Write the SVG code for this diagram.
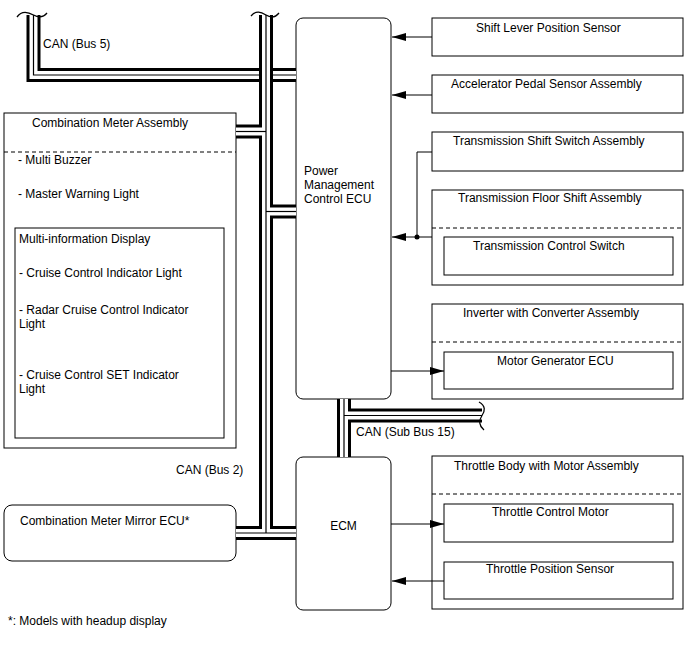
<svg xmlns="http://www.w3.org/2000/svg" width="688" height="658" viewBox="0 0 688 658">
<style>
text{font-family:"Liberation Sans",Arial,sans-serif;font-size:12px;fill:#000}
.box{fill:#fff;stroke:#000;stroke-width:1}
.dash{fill:none;stroke:#000;stroke-width:1;stroke-dasharray:4 3}
.ln{fill:none;stroke:#000;stroke-width:1}
.bk{fill:none;stroke:#000;stroke-width:14;stroke-linejoin:miter}
.wh{fill:none;stroke:#fff;stroke-width:8;stroke-linejoin:miter}
.th{fill:none;stroke:#000;stroke-width:1.2}
.wave{fill:none;stroke:#000;stroke-width:1.3}
</style>
<defs>
<marker id="arr" viewBox="0 0 14 8" refX="14" refY="4" markerWidth="14" markerHeight="8" orient="auto" markerUnits="userSpaceOnUse">
<path d="M0,0 L14,4 L0,8 z" fill="#000"/>
</marker>
</defs>
<rect width="688" height="658" fill="#fff"/>

<g id="pm-ecu">
  <rect class="box" x="296" y="18" width="95" height="381" rx="7"/>
  <text x="304" y="175">Power</text>
  <text x="304" y="189">Management</text>
  <text x="304" y="203">Control ECU</text>
</g>

<g id="ecm">
  <rect class="box" x="296" y="457" width="95" height="153" rx="7"/>
  <text x="343.5" y="530" text-anchor="middle">ECM</text>
</g>

<g id="combination-meter">
  <rect class="box" x="4" y="113" width="232" height="335"/>
  <text x="32" y="127">Combination Meter Assembly</text>
  <line class="dash" x1="4" y1="152" x2="236" y2="152"/>
  <text x="18" y="164">- Multi Buzzer</text>
  <text x="18" y="198">- Master Warning Light</text>
  <g id="multi-info-display">
    <rect class="box" x="15" y="228" width="209" height="210"/>
    <text x="19" y="243">Multi-information Display</text>
    <text x="19" y="277">- Cruise Control Indicator Light</text>
    <text x="19" y="314">- Radar Cruise Control Indicator</text>
    <text x="19" y="328">Light</text>
    <text x="19" y="379">- Cruise Control SET Indicator</text>
    <text x="19" y="393">Light</text>
  </g>
</g>

<g id="mirror-ecu">
  <rect class="box" x="4" y="505" width="232" height="56" rx="8"/>
  <text x="20" y="525">Combination Meter Mirror ECU*</text>
</g>

<g id="shift-lever">
  <rect class="box" x="432" y="18" width="251" height="38"/>
  <text x="476" y="32">Shift Lever Position Sensor</text>
</g>

<g id="accelerator">
  <rect class="box" x="432" y="75" width="251" height="38"/>
  <text x="451" y="88">Accelerator Pedal Sensor Assembly</text>
</g>

<g id="shift-switch">
  <rect class="box" x="432" y="132" width="251" height="39"/>
  <text x="453" y="145">Transmission Shift Switch Assembly</text>
</g>

<g id="floor-shift">
  <rect class="box" x="432" y="190" width="251" height="95"/>
  <text x="458" y="202">Transmission Floor Shift Assembly</text>
  <line class="dash" x1="432" y1="228" x2="683" y2="228"/>
  <g id="control-switch">
    <rect class="box" x="444" y="237" width="229" height="38"/>
    <text x="473" y="250">Transmission Control Switch</text>
  </g>
</g>

<g id="inverter">
  <rect class="box" x="432" y="304" width="251" height="95"/>
  <text x="463" y="317">Inverter with Converter Assembly</text>
  <line class="dash" x1="432" y1="342" x2="683" y2="342"/>
  <g id="mg-ecu">
    <rect class="box" x="444" y="352" width="229" height="37"/>
    <text x="497" y="365">Motor Generator ECU</text>
  </g>
</g>

<g id="throttle-body">
  <rect class="box" x="432" y="456" width="251" height="153"/>
  <text x="454" y="470">Throttle Body with Motor Assembly</text>
  <line class="dash" x1="432" y1="494" x2="683" y2="494"/>
  <g id="throttle-motor">
    <rect class="box" x="444" y="504" width="229" height="38"/>
    <text x="492" y="516">Throttle Control Motor</text>
  </g>
  <g id="throttle-sensor">
    <rect class="box" x="444" y="562" width="229" height="37"/>
    <text x="486" y="573">Throttle Position Sensor</text>
  </g>
</g>

<g id="connectors">
  <!-- CAN Bus 5 -->
  <g id="bus5">
    <path class="bk" d="M33.5,15 V75 H296"/>
    <path class="wh" d="M33.5,15 V75 H296"/>
    <path class="th" d="M33.5,15 V75 H296"/>
    <path class="wave" d="M17,17 C22,10 28,12 33.5,15 C39,18 43,18 47,13"/>
  </g>
  <!-- CAN Bus 2 -->
  <g id="bus2">
    <path class="bk" d="M266,15 V533"/>
    <path class="bk" d="M236,533 H296"/>
    <path class="bk" d="M236,131.5 H266"/>
    <path class="bk" d="M266,211.5 H296"/>
    <path class="wh" d="M266,15 V533"/>
    <path class="wh" d="M236,533 H296"/>
    <path class="wh" d="M236,131.5 H266"/>
    <path class="wh" d="M266,211.5 H296"/>
    <path class="th" d="M266,15 V533"/>
    <path class="th" d="M236,533 H296"/>
    <path class="th" d="M236,131.5 H266"/>
    <path class="th" d="M266,211.5 H296"/>
    <path class="wave" d="M251,16 C256,10 261,12 266,15 C271,18 275,18 279,13"/>
  </g>
  <!-- CAN Sub Bus 15 -->
  <g id="bus15">
    <path class="bk" d="M344,399 V457"/>
    <path class="bk" d="M344,415.5 H482"/>
    <path class="wh" d="M344,399 V457"/>
    <path class="wh" d="M344,415.5 H482"/>
    <path class="th" d="M344,399 V457"/>
    <path class="th" d="M344,415.5 H482"/>
    <path class="wave" d="M479,402 C486,406 485,411 482,415.5 C479,420 478,425 484,430"/>
  </g>
  <!-- signal lines -->
  <path class="ln" d="M432,37 H392" marker-end="url(#arr)"/>
  <path class="ln" d="M432,95 H392" marker-end="url(#arr)"/>
  <path class="ln" d="M432,152 H417 V237"/>
  <path class="ln" d="M432,237 H392" marker-end="url(#arr)"/>
  <circle cx="417" cy="237" r="2.5" fill="#000"/>
  <path class="ln" d="M391,371 H444" marker-end="url(#arr)"/>
  <path class="ln" d="M391,524 H444" marker-end="url(#arr)"/>
  <path class="ln" d="M444,581 H392" marker-end="url(#arr)"/>
</g>

<text x="43" y="48">CAN (Bus 5)</text>
<text x="176" y="474">CAN (Bus 2)</text>
<text x="356" y="436">CAN (Sub Bus 15)</text>
<text x="8" y="625">*: Models with headup display</text>
</svg>
